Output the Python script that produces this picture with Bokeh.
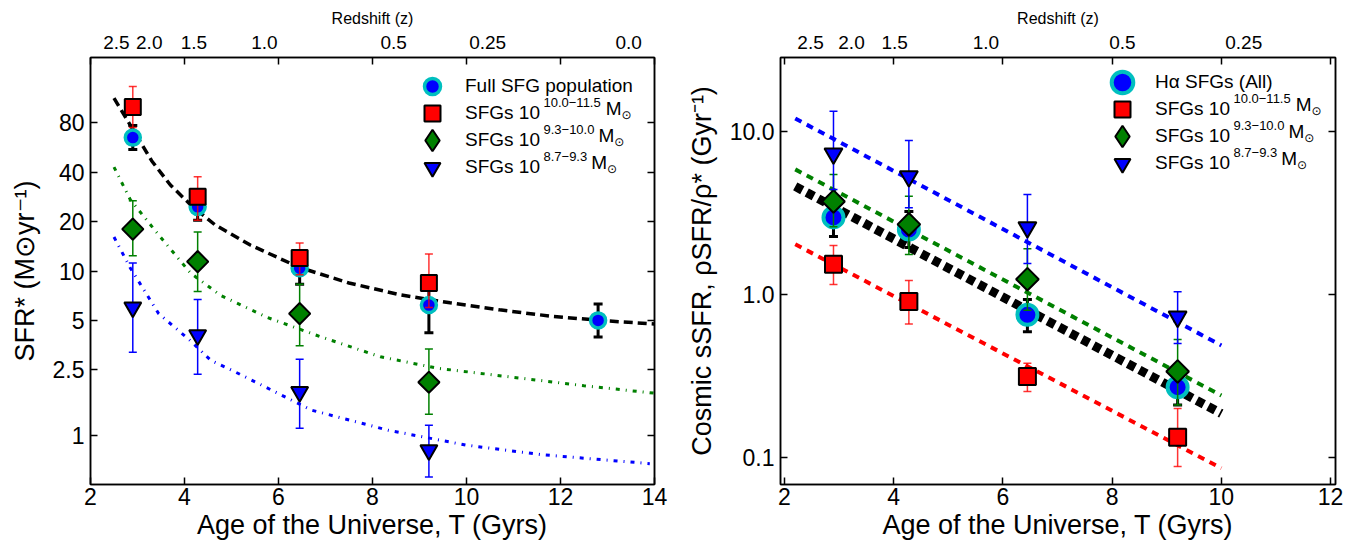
import numpy as np
from bokeh.plotting import figure
from bokeh.models import FixedTicker, LinearAxis, LogAxis, Legend, LegendItem, Label
from bokeh.layouts import row
from bokeh.embed import file_html
from bokeh.resources import INLINE

FONT = "Liberation Sans"

# ---------------- left panel data ----------------
T_full = [2.9, 4.28, 6.45, 9.2, 12.8]
sfr_full = [65, 24.6, 10.4, 6.2, 5.0]
sfr_full_lo = [55, 20.4, 8.3, 4.2, 3.96]
sfr_full_hi = [77, 29.0, 12.5, 8.0, 6.3]

T_mass = [2.9, 4.28, 6.45, 9.2]
sfr_m1 = [100, 28.3, 12.0, 8.45]          # 10^10.0-11.5
sfr_m1_lo = [75, 20.4, 9.5, 6.0]
sfr_m1_hi = [133, 37.5, 14.8, 12.7]
sfr_m2 = [18, 11.4, 5.5, 2.1]             # 10^9.3-10.0
sfr_m2_lo = [12.4, 7.5, 3.5, 1.34]
sfr_m2_hi = [26.8, 17.3, 8.3, 3.35]
sfr_m3 = [6.0, 4.07, 1.83, 0.81]          # 10^8.7-9.3
sfr_m3_lo = [3.2, 2.35, 1.1, 0.555]
sfr_m3_hi = [11.2, 6.7, 2.9, 1.15]

fit_full_T = [2.5, 2.9, 3.3, 3.7, 4.15, 4.65, 5.4, 6.45, 7.5, 8.6, 9.65, 10.7, 11.8, 12.85, 14.0]
fit_full = [113, 73, 47, 33.4, 25, 19.1, 14.4, 10.5, 8.45, 7.15, 6.4, 5.8, 5.3, 5.0, 4.75]
fit_m2_T = [2.5, 2.85, 3.45, 4.13, 4.77, 5.77, 6.9, 8.17, 9.4, 11.0, 12.5, 14.0]
fit_m2 = [43, 27.1, 16.6, 9.7, 7.1, 5.2, 3.97, 3.0, 2.55, 2.25, 2.0, 1.8]
fit_m3_T = [2.5, 2.85, 3.45, 4.13, 4.56, 5.05, 6.7, 8.34, 9.98, 11.6, 13.9]
fit_m3 = [16.1, 10.4, 5.5, 3.75, 2.85, 2.45, 1.42, 1.07, 0.87, 0.76, 0.67]

x_ticks_left = [2, 4, 6, 8, 10, 12, 14]
y_ticks_left = [1, 2.5, 5, 10, 20, 40, 80]
y_labels_left = ["1", "2.5", "5", "10", "20", "40", "80"]
z_labels_left = ["2.5", "2.0", "1.5", "1.0", "0.5", "0.25", "0.0"]
z_pos_left = [2.55, 3.25, 4.2, 5.7, 8.45, 10.45, 13.45]

# ---------------- right panel data ----------------
T_r = [2.9, 4.28, 6.45, 9.2]
ssfr_all = [2.97, 2.5, 0.75, 0.27]
ssfr_all_lo = [2.27, 1.94, 0.59, 0.21]
ssfr_all_hi = [3.9, 3.23, 0.93, 0.34]
ssfr_m1 = [1.53, 0.906, 0.314, 0.133]
ssfr_m1_lo = [1.15, 0.66, 0.254, 0.088]
ssfr_m1_hi = [2.0, 1.22, 0.378, 0.2]
ssfr_m2 = [3.72, 2.69, 1.24, 0.337]
ssfr_m2_lo = [2.6, 1.76, 0.8, 0.21]
ssfr_m2_hi = [5.45, 4.0, 1.91, 0.53]
ssfr_m3 = [7.3, 5.3, 2.58, 0.73]
ssfr_m3_lo = [4.4, 3.4, 1.55, 0.5]
ssfr_m3_hi = [13.3, 8.8, 4.1, 1.04]

fit_T_r = [2.2, 10.0]
fit_r_m3 = [12.0, 0.487]
fit_r_m2 = [5.85, 0.24]
fit_r_all = [4.6, 0.186]
fit_r_m1 = [2.03, 0.086]

x_ticks_right = [2, 4, 6, 8, 10, 12]
y_ticks_right = [0.1, 1, 10]
y_labels_right = ["0.1", "1.0", "10.0"]
z_labels_right = ["2.5", "2.0", "1.5", "1.0", "0.5", "0.25"]
z_pos_right = [2.48, 3.23, 4.02, 5.69, 8.19, 10.41]

# legend texts: base label, superscript mass range
mass_sup = ["10.0\u221211.5", "9.3\u221210.0", "8.7\u22129.3"]
full_label_left = "Full SFG population"
full_label_right = "H\u03b1 SFGs (All)"

BLUE = "#0000ff"
CYAN = "#00bfbf"
RED = "#ff0000"
GREEN = "#008000"

LEG_FS = 19      # legend font size (px)
SUP_FS = 13      # superscript font size (px)


def style_axis(ax, tick_size="23px"):
    ax.major_label_text_font = FONT
    ax.major_label_text_font_size = tick_size
    ax.major_label_text_color = "black"
    ax.axis_label_text_font = FONT
    ax.axis_label_text_font_size = "27px"
    ax.axis_label_text_font_style = "normal"
    ax.axis_label_text_color = "black"
    ax.major_tick_in = 7
    ax.major_tick_out = 0
    ax.minor_tick_in = 0
    ax.minor_tick_out = 0
    ax.axis_line_width = 1.5
    ax.major_tick_line_width = 1.5
    ax.axis_line_color = "black"
    ax.major_tick_line_color = "black"


def make_fig(xr, yr, frame_w, left_b, right_b, x_ticks, y_ticks, y_labels,
             z_pos, z_labels, xlabel, ylabel):
    p = figure(frame_width=frame_w, frame_height=427, x_range=xr, y_range=yr,
               y_axis_type="log", min_border_left=left_b, min_border_right=right_b,
               min_border_top=57, min_border_bottom=54,
               output_backend="svg", toolbar_location=None)
    p.grid.visible = False
    p.outline_line_color = "black"
    p.outline_line_width = 1.5
    p.background_fill_color = "white"
    p.border_fill_color = "white"

    xa = p.xaxis[0]
    style_axis(xa)
    xa.ticker = FixedTicker(ticks=x_ticks)
    xa.axis_label = xlabel
    xa.major_label_standoff = 3
    xa.axis_label_standoff = 2

    ya = p.yaxis[0]
    style_axis(ya)
    ya.ticker = FixedTicker(ticks=y_ticks)
    ya.major_label_overrides = {t: l for t, l in zip(y_ticks, y_labels)}
    ya.axis_label = ylabel
    ya.major_label_standoff = 6
    ya.axis_label_standoff = 10

    # mirrored tick marks on top
    top_ticks = LinearAxis(ticker=FixedTicker(ticks=x_ticks),
                           major_label_overrides={t: "" for t in x_ticks})
    style_axis(top_ticks, tick_size="0px")
    top_ticks.major_label_standoff = 0
    p.add_layout(top_ticks, "above")

    # redshift labels
    top_lab = LinearAxis(ticker=FixedTicker(ticks=z_pos),
                         major_label_overrides={t: l for t, l in zip(z_pos, z_labels)})
    style_axis(top_lab, tick_size="19px")
    top_lab.major_tick_in = 0
    top_lab.axis_line_color = None
    top_lab.major_tick_line_color = None
    top_lab.major_label_standoff = 9
    top_lab.axis_label = "Redshift (z)"
    top_lab.axis_label_text_font_size = "16px"
    top_lab.axis_label_standoff = 6
    p.add_layout(top_lab, "above")

    # mirrored tick marks on right
    right_ticks = LogAxis(ticker=FixedTicker(ticks=y_ticks),
                          major_label_overrides={t: "" for t in y_ticks})
    style_axis(right_ticks, tick_size="0px")
    right_ticks.major_label_standoff = 0
    p.add_layout(right_ticks, "right")
    return p


def errbar(p, T, lo, hi, color, width, cap, alpha=1.0):
    p.segment(x0=T, y0=lo, x1=T, y1=hi, line_color=color, line_width=width,
              line_alpha=alpha)
    p.scatter(x=list(T) + list(T), y=list(lo) + list(hi), marker="dash", size=cap,
              line_color=color, line_width=width, line_alpha=alpha)


FRAME_BOTTOM = 484  # page y of frame bottom (same for both panels)
GLYPH_X = 347       # legend glyph centre, px from frame left
LABEL_X = GLYPH_X + 20 + 13


def add_legend(p, renderer, label, yc, gh=40):
    """One legend entry: glyph centred at (GLYPH_X, page-y yc)."""
    pad = 5
    lg = Legend(items=[LegendItem(label=label, renderers=[renderer])],
                location=(float(GLYPH_X - gh // 2 - pad),
                          float(FRAME_BOTTOM - yc - gh // 2 - pad)))
    lg.border_line_color = None
    lg.background_fill_alpha = 0
    lg.label_text_font = FONT
    lg.label_text_font_size = f"{LEG_FS}px"
    lg.label_text_color = "black"
    lg.glyph_width = int(gh)
    lg.glyph_height = int(gh)
    lg.spacing = 0
    lg.label_standoff = int(13 + (40 - gh) // 2)
    lg.padding = pad
    lg.margin = 0
    p.add_layout(lg)


def text_width(s, fs):
    w = {".": 0.278, "\u2212": 0.584, " ": 0.278, "S": 0.667, "F": 0.611,
         "G": 0.778, "s": 0.5}
    return sum(w.get(c, 0.556) for c in s) * fs


def add_mass_suffix(p, sup, yc):
    """superscript exponent and M_sun after the legend label 'SFGs 10'."""
    fy = FRAME_BOTTOM - yc
    x0 = LABEL_X + text_width("SFGs 10", LEG_FS) - 2
    p.add_layout(Label(x=x0, y=fy + 6, x_units="screen", y_units="screen", text=sup,
                       text_font=FONT, text_font_size=f"{SUP_FS}px", text_color="black",
                       text_baseline="middle", text_align="left"))
    x1 = x0 + text_width(sup, SUP_FS) + 4
    p.add_layout(Label(x=x1, y=fy, x_units="screen", y_units="screen", text="M",
                       text_font=FONT, text_font_size=f"{LEG_FS}px", text_color="black",
                       text_baseline="middle", text_align="left"))
    p.add_layout(Label(x=x1 + 0.833 * LEG_FS, y=fy - 6, x_units="screen", y_units="screen",
                       text="\u2299", text_font="DejaVu Sans", text_font_size="12px",
                       text_color="black", text_baseline="middle", text_align="left"))


# ================= LEFT =================
p1 = make_fig((2, 14), (0.5, 200), 564, 90, 26, x_ticks_left, y_ticks_left,
              y_labels_left, z_pos_left, z_labels_left,
              "Age of the Universe, T (Gyrs)", "SFR* (M\u2299yr\u207b\u00b9)")

p1.line(fit_full_T, fit_full, line_color="black", line_width=3.5, line_dash="9 5")
p1.line(fit_m2_T, fit_m2, line_color=GREEN, line_width=3, line_dash="4 6 1 6")
p1.line(fit_m3_T, fit_m3, line_color=BLUE, line_width=3, line_dash="4 6 1 6")

errbar(p1, T_full, sfr_full_lo, sfr_full_hi, "black", 3, 9)
r_full = p1.scatter(T_full, sfr_full, marker="circle", size=15, fill_color=BLUE,
                    line_color=CYAN, line_width=3.5)
errbar(p1, T_mass, sfr_m1_lo, sfr_m1_hi, RED, 1.5, 8, 0.8)
r_m1 = p1.scatter(T_mass, sfr_m1, marker="square", size=16, fill_color=RED,
                  line_color="black", line_width=2)
errbar(p1, T_mass, sfr_m2_lo, sfr_m2_hi, GREEN, 1.5, 8)
r_m2 = p1.scatter(T_mass, sfr_m2, marker="square", angle=np.pi / 4, size=15,
                  fill_color=GREEN, line_color="black", line_width=2)
errbar(p1, T_mass, sfr_m3_lo, sfr_m3_hi, BLUE, 1.5, 8)
r_m3 = p1.scatter(T_mass, sfr_m3, marker="inverted_triangle", size=17, fill_color=BLUE,
                  line_color="black", line_width=2)
# legend key for the diamonds (legend glyphs ignore marker angle)
k_m2 = p1.scatter([np.nan], [np.nan], marker="diamond", size=20, fill_color=GREEN,
                  line_color="black", line_width=2)

left_yc = [81, 108, 135, 162]
add_legend(p1, r_full, full_label_left, left_yc[0])
add_legend(p1, r_m1, "SFGs 10", left_yc[1])
add_legend(p1, k_m2, "SFGs 10", left_yc[2], gh=54)
add_legend(p1, r_m3, "SFGs 10", left_yc[3])
for sup, yc in zip(mass_sup, left_yc[1:]):
    add_mass_suffix(p1, sup, yc)

# ================= RIGHT =================
p2 = make_fig((1.93, 12.09), (0.0683, 28.4), 555, 100, 12, x_ticks_right,
              y_ticks_right, y_labels_right, z_pos_right, z_labels_right,
              "Age of the Universe, T (Gyrs)",
              "Cosmic sSFR, \u03c1SFR/\u03c1* (Gyr\u207b\u00b9)")

p2.line(fit_T_r, fit_r_m3, line_color=BLUE, line_width=4, line_dash="7 6")
p2.line(fit_T_r, fit_r_m2, line_color=GREEN, line_width=4, line_dash="7 6")
p2.line(fit_T_r, fit_r_all, line_color="black", line_width=9, line_dash="8 5")
p2.line(fit_T_r, fit_r_m1, line_color=RED, line_width=4, line_dash="7 6")

errbar(p2, T_r, ssfr_all_lo, ssfr_all_hi, "black", 3, 9)
q_all = p2.scatter(T_r, ssfr_all, marker="circle", size=20, fill_color=BLUE,
                   line_color=CYAN, line_width=4)
errbar(p2, T_r, ssfr_m1_lo, ssfr_m1_hi, RED, 1.5, 8, 0.8)
q_m1 = p2.scatter(T_r, ssfr_m1, marker="square", size=17, fill_color=RED,
                  line_color="black", line_width=2)
errbar(p2, T_r, ssfr_m2_lo, ssfr_m2_hi, GREEN, 1.5, 8)
q_m2 = p2.scatter(T_r, ssfr_m2, marker="square", angle=np.pi / 4, size=16,
                  fill_color=GREEN, line_color="black", line_width=2)
errbar(p2, T_r, ssfr_m3_lo, ssfr_m3_hi, BLUE, 1.5, 8)
q_m3 = p2.scatter(T_r, ssfr_m3, marker="inverted_triangle", size=18, fill_color=BLUE,
                  line_color="black", line_width=2)
k2_m2 = p2.scatter([np.nan], [np.nan], marker="diamond", size=20, fill_color=GREEN,
                   line_color="black", line_width=2)

right_yc = [77, 104, 131, 158]
add_legend(p2, q_all, full_label_right, right_yc[0], gh=54)
add_legend(p2, q_m1, "SFGs 10", right_yc[1])
add_legend(p2, k2_m2, "SFGs 10", right_yc[2], gh=54)
add_legend(p2, q_m3, "SFGs 10", right_yc[3])
for sup, yc in zip(mass_sup, right_yc[1:]):
    add_mass_suffix(p2, sup, yc)

layout = row(p1, p2)
open("out.html", "w").write(file_html(layout, INLINE))
